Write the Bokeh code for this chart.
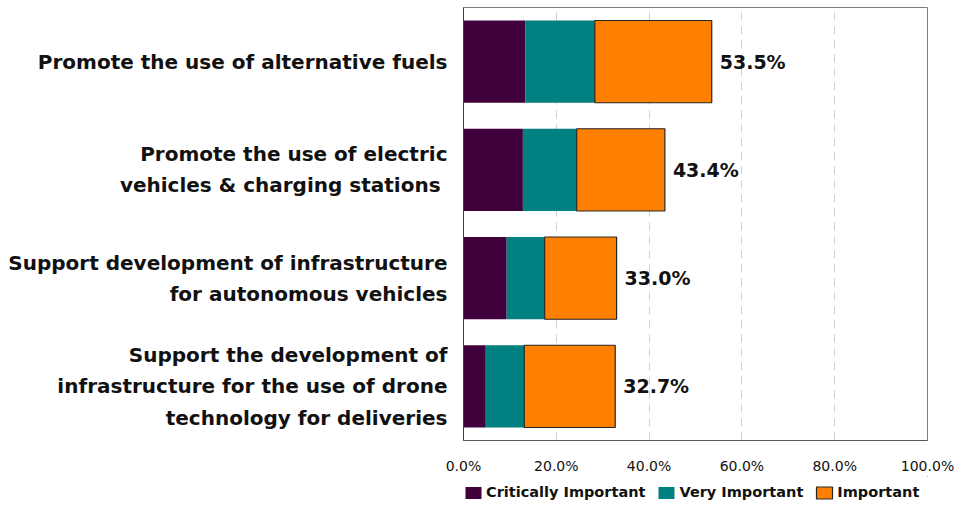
from bokeh.plotting import figure
from bokeh.layouts import column
from bokeh.models import (ColumnDataSource, FactorRange, Range1d, FixedTicker,
                          PrintfTickFormatter, Legend, LegendItem)
from bokeh.core.properties import value
from bokeh.embed import file_html
from bokeh.resources import INLINE

categories = [
    "Promote the use of alternative fuels",
    "Promote the use of electric\nvehicles  & charging stations",
    "Support development of infrastructure\nfor autonomous vehicles",
    "Support the development of\ninfrastructure for the use of drone\ntechnology for deliveries",
]
critically_important = [13.3, 12.8, 9.3, 4.8]
very_important = [15.0, 11.6, 8.2, 8.3]
important = [25.2, 19.0, 15.5, 19.6]
totals = [53.5, 43.4, 33.0, 32.7]
x_ticks = [0, 20, 40, 60, 80, 100]
series = ["Critically Important", "Very Important", "Important"]
colors = ["#40003c", "#008080", "#ff8000"]
outlines = [None, None, "#262626"]

src = ColumnDataSource(dict(
    cat=categories,
    crit=critically_important,
    very=very_important,
    imp=important,
    total=totals,
    label=[f"{t:.1f}%" for t in totals],
))

FONT = "DejaVu Sans"

p = figure(
    width=954, height=476,
    y_range=FactorRange(factors=list(reversed(categories))),
    x_range=Range1d(0, 100),
    output_backend="svg", toolbar_location=None,
    min_border_left=463, min_border_right=27,
    min_border_top=7, min_border_bottom=32,
)

p.hbar_stack(
    ["crit", "very", "imp"], y="cat", height=0.76, source=src,
    fill_color=colors, line_color=outlines, line_width=1.2,
)

p.text(x="total", y="cat", text="label", source=src, x_offset=8,
       text_align="left", text_baseline="middle",
       text_font=value(FONT), text_font_style="bold", text_font_size="19px",
       text_color="#111111")

# axes
p.xaxis.ticker = FixedTicker(ticks=x_ticks)
p.xaxis.formatter = PrintfTickFormatter(format="%.1f%%")
p.xaxis.major_label_text_font = FONT
p.xaxis.major_label_text_font_size = "14px"
p.xaxis.major_label_text_color = "#111111"
p.xaxis.major_tick_line_color = None
p.xaxis.minor_tick_line_color = None
p.xaxis.axis_line_color = "#595959"
p.xaxis.major_label_standoff = 11

p.yaxis.major_label_text_font = FONT
p.yaxis.major_label_text_font_size = "20px"
p.yaxis.major_label_text_font_style = "bold"
p.yaxis.major_label_text_color = "#111111"
p.yaxis.major_label_text_line_height = 1.3
p.yaxis.major_tick_line_color = None
p.yaxis.minor_tick_line_color = None
p.yaxis.axis_line_color = "#404040"
p.yaxis.major_label_standoff = 10

p.ygrid.grid_line_color = None
p.xgrid.grid_line_color = "#d0d0d0"
p.xgrid.grid_line_dash = "8 6"
p.outline_line_color = "#7f7f7f"
p.outline_line_width = 1

# legend row (separate strip below the chart)
lp = figure(
    width=954, height=24,
    x_range=Range1d(0, 1), y_range=Range1d(0, 1),
    output_backend="svg", toolbar_location=None,
    min_border_left=463, min_border_right=27,
    min_border_top=0, min_border_bottom=0,
)
lp.axis.visible = False
lp.grid.visible = False
lp.outline_line_color = None
lp.background_fill_alpha = 0
lp.border_fill_alpha = 0
items = []
for s, c, lc in zip(series, colors, outlines):
    # swatch-only renderer: its bar lies far outside the strip's visible range
    r = lp.hbar(y=[50], left=[50], right=[60], height=0.5,
                fill_color=c, line_color=lc, line_width=1.2)
    items.append(LegendItem(label=s, renderers=[r]))
leg = Legend(
    items=items, orientation="horizontal", location="bottom_left",
    padding=0, margin=0, spacing=11,
    glyph_width=20, glyph_height=15, label_standoff=3,
    label_text_font=FONT, label_text_font_size="14.5px",
    label_text_font_style="bold", label_text_color="#111111",
    border_line_color=None, background_fill_alpha=0,
)
lp.add_layout(leg)

layout = column(p, lp, spacing=0)
open("out.html", "w").write(file_html(layout, INLINE))
